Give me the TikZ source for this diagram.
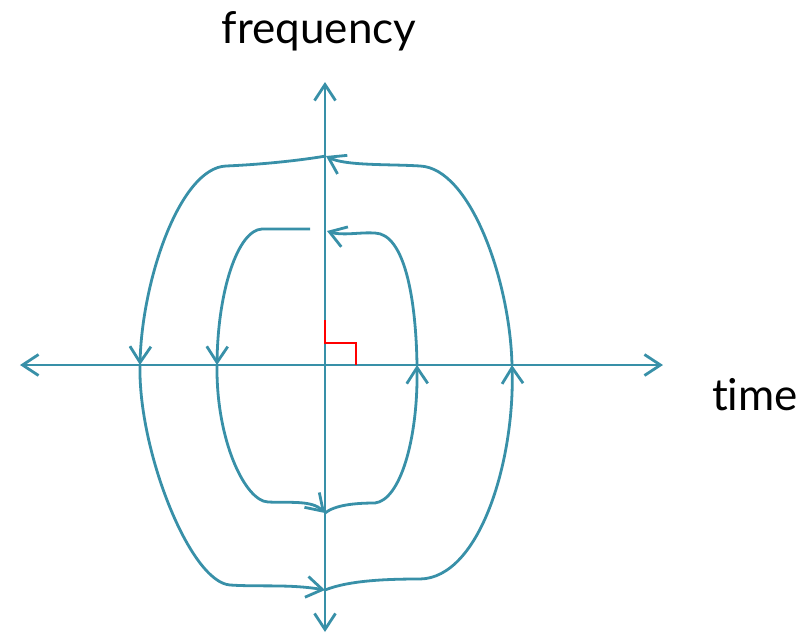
\documentclass[tikz,border=0pt]{standalone}
\usepackage{fontspec}
\setmainfont{Lato}[Ligatures=NoCommon]
\usetikzlibrary{arrows.meta}
\definecolor{loopTeal}{HTML}{3890A8}
\definecolor{markRed}{HTML}{FF0000}

\begin{document}
\begin{tikzpicture}[x=0.5pt,y=-0.5pt]
\tikzset{axisline/.style={draw=loopTeal, line width=1.4pt, {Straight Barb[length=8pt,width=10.5pt]}-{Straight Barb[length=8pt,width=10.5pt]}},
 flow/.style={draw=loopTeal, line width=1.4pt, -{Straight Barb[length=8pt,width=10.5pt]}},
 lbl/.style={font=\fontsize{22}{26}\selectfont, inner sep=0pt, anchor=base}}
\useasboundingbox (0,0) rectangle (811,634);

% axes
\coordinate (tw) at (20,365);  \coordinate (te) at (663,365);
\coordinate (fs) at (325,632); \coordinate (fn) at (325,82);
\draw[axisline] (tw) -- (te);
\draw[axisline] (fs) -- (fn);
\node[lbl] (freq) at (319,43) {frequency};
\node[lbl] (time) at (755,410) {time};

% right angle mark
\draw[markRed, line width=1pt] (325,320) -- (325,343) -- (356,343) -- (356,365);

% outer loop
\coordinate (otop) at (326,156); \coordinate (obot) at (325,590);
\coordinate (oleft) at (140,365); \coordinate (oright) at (512,365);
\draw[flow] (otop) .. controls (290,162) and (250,165) .. (226,166)
  .. controls (180,168) and (142,280) .. (oleft);
\draw[flow] (oleft) .. controls (138,450) and (190,582) .. (230,585)
  .. controls (260,587) and (290,584) .. (obot);
\draw[flow] (obot) .. controls (350,580) and (390,579) .. (420,579)
  .. controls (480,578) and (515,460) .. (oright);
\draw[flow] (oright) .. controls (510,280) and (470,168) .. (420,166)
  .. controls (390,164) and (345,166) .. (otop);

% inner loop
\coordinate (itop) at (327,231); \coordinate (ibot) at (325,513);
\coordinate (ileft) at (217,365); \coordinate (iright) at (417,365);
\draw[flow] (310,229) -- (262,229) .. controls (238,230) and (218,290) .. (ileft);
\draw[flow] (ileft) .. controls (216,440) and (245,501) .. (268,502)
  .. controls (290,503) and (312,500) .. (ibot);
\draw[flow] (ibot) .. controls (335,505) and (355,503) .. (375,503)
  .. controls (400,500) and (418,440) .. (iright);
\draw[flow] (iright) .. controls (416,300) and (405,234) .. (375,233)
  .. controls (360,232) and (342,236) .. (itop);
\end{tikzpicture}
\end{document}
